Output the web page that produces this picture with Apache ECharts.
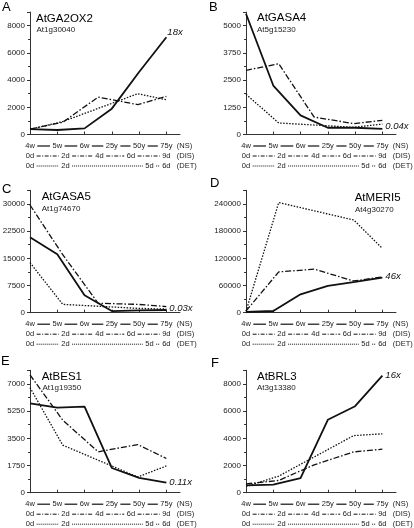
<!DOCTYPE html>
<html><head><meta charset="utf-8">
<script src="https://cdn.jsdelivr.net/npm/echarts@6/dist/echarts.min.js"></script>
<style>html,body{margin:0;padding:0;background:#fff}#c{width:414px;height:528px}</style>
</head><body><div id="c"></div>
<script>
// ---- x positions / tick labels ----
const nsX = [0, 1, 2, 3, 4, 5];
const disX = [0, 1.2, 2.5, 3.95, 5];
const detX = [0, 1.2, 3.95, 5];
const nsTicks = ['4w', '5w', '6w', '25y', '50y', '75y'];
const disTicks = ['0d', '2d', '4d', '6d', '9d'];
const detTicks = ['0d', '2d', '5d', '6d'];
const disTickPos = [0, 1.3, 2.55, 3.7, 5];
const detTickPos = [0, 1.3, 4.38, 5];
const rowTags = ['(NS)', '(DIS)', '(DET)'];

// ---- panel texts ----
const panelLetters = ['A', 'B', 'C', 'D', 'E', 'F'];
const geneNames = ['AtGA2OX2', 'AtGASA4', 'AtGASA5', 'AtMERI5', 'AtBES1', 'AtBRL3'];
const locusIds = ['At1g30040', 'At5g15230', 'At1g74670', 'At4g30270', 'At1g19350', 'At3g13380'];
const foldChanges = ['18x', '0.04x', '0.03x', '46x', '0.11x', '16x'];
const yStep = [2000, 1250, 7500, 60000, 1750, 2000];
const yTop = [8000, 5000, 30000, 240000, 7000, 8000];

// ---- series values (NS solid, DIS dash-dot, DET dotted) ----
const nsA = [400, 330, 450, 1900, 4600, 7150];
const disA = [400, 900, 2750, 2200, 2800];
const detA = [380, 950, 3000, 2550];
const nsB = [5550, 2250, 880, 310, 310, 260];
const disB = [2950, 3250, 800, 500, 650];
const detB = [1850, 530, 330, 480];
const nsC = [20800, 16100, 4800, 450, 650, 750];
const disC = [29700, 16000, 2600, 2300, 1700];
const detC = [13800, 2300, 1200, 1000];
const nsD = [1500, 3700, 40600, 59000, 68000, 77500];
const disD = [3700, 90000, 96000, 70000, 79000];
const detD = [3000, 243000, 204500, 141800];
const nsE = [5750, 5470, 5540, 1590, 950, 650];
const disE = [7580, 4670, 2630, 3100, 2200];
const detE = [6760, 3060, 1010, 1720];
const nsF = [540, 590, 1080, 5360, 6360, 8610];
const disF = [650, 900, 2050, 3000, 3200];
const detF = [460, 1220, 4200, 4330];

const panels = [
  { ns: nsA, dis: disA, det: detA },
  { ns: nsB, dis: disB, det: detB },
  { ns: nsC, dis: disC, det: detC },
  { ns: nsD, dis: disD, det: detD },
  { ns: nsE, dis: disE, det: detE },
  { ns: nsF, dis: disF, det: detF }
];

// ---- layout ----
const FONT = 'Liberation Sans, Arial, Helvetica, sans-serif';
const INK = '#111';
const AX = '#333';
const colLeft = [30, 246];
const rowBottom = [134.5, 312.7, 492.7];
const PLOT_W = 150, PLOT_H = 122.4, X_MAX = 5.5;
const letterPos = [[2, 7.5], [209, 7.5], [2, 189], [210, 183], [1, 361], [211, 363.5]];
const titlePos = [[36, 18.7], [257, 18], [41.7, 197.3], [354.7, 198.3], [41.7, 377.3], [257, 377.3]];
const subPos = [[36.5, 29.5], [257, 29.5], [41.7, 208.7], [355, 209.3], [42.5, 387.3], [257, 388]];
const foldOffset = [[-2, -5], [0, -2], [0, -2], [0, -1], [0, 0], [0, 0]];

const chart = echarts.init(document.getElementById('c'), null, { renderer: 'canvas' });
const pair = (xs, ys) => ys.map((y, k) => [xs[k], y]);

const grids = [], xAxes = [], yAxes = [], series = [];
panels.forEach((p, i) => {
  const col = i % 2, row = Math.floor(i / 2);
  grids.push({ left: colLeft[col], top: rowBottom[row] - PLOT_H, width: PLOT_W, height: PLOT_H,
    containLabel: false, outerBoundsMode: 'none' });
  xAxes.push({ gridIndex: i, type: 'value', min: 0, max: X_MAX, interval: 1,
    axisLine: { show: true, onZero: false, lineStyle: { color: AX, width: 1 } },
    axisTick: { show: true, inside: true, length: 3, customValues: nsX, lineStyle: { color: AX } },
    axisLabel: { show: false }, splitLine: { show: false } });
  yAxes.push({ gridIndex: i, type: 'value', min: 0, max: yTop[i] + yStep[i] / 2, interval: yStep[i],
    axisLine: { show: true, lineStyle: { color: AX, width: 1 } },
    axisTick: { show: true, length: 3, lineStyle: { color: AX } },
    minorTick: { show: true, splitNumber: 2, length: 2, lineStyle: { color: AX } },
    axisLabel: { fontSize: 8, fontFamily: FONT, color: '#222', margin: 5, showMaxLabel: false,
      formatter: v => String(v) },
    splitLine: { show: false }, minorSplitLine: { show: false } });
  series.push({ type: 'line', xAxisIndex: i, yAxisIndex: i, data: pair(nsX, p.ns), symbol: 'none',
    silent: true, z: 4, lineStyle: { color: INK, width: 1.8 },
    endLabel: { show: true, formatter: foldChanges[i], fontStyle: 'italic', fontSize: 9.5,
      fontFamily: FONT, color: INK, distance: 3, offset: foldOffset[i] } });
  series.push({ type: 'line', xAxisIndex: i, yAxisIndex: i, data: pair(disX, p.dis), symbol: 'none',
    silent: true, z: 3, lineStyle: { color: INK, width: 1.3, type: [6, 2, 1.5, 2] } });
  series.push({ type: 'line', xAxisIndex: i, yAxisIndex: i, data: pair(detX, p.det), symbol: 'none',
    silent: true, z: 3, lineStyle: { color: INK, width: 1.3, type: [1.5, 1.5] } });
});

chart.setOption({
  animation: false,
  backgroundColor: '#fff',
  grid: grids, xAxis: xAxes, yAxis: yAxes, series: series
});

// ---- texts and axis-label rows drawn through the axes' own scales ----
const ctx = document.createElement('canvas').getContext('2d');
const ROW_FS = 7.5;
function tw(t) { ctx.font = ROW_FS + 'px ' + FONT; return ctx.measureText(t).width; }
const rows = [
  { labels: nsTicks, pos: nsX, dash: null, lw: 1.2 },
  { labels: disTicks, pos: disTickPos, dash: [4, 1.5, 1, 1.5], lw: 1 },
  { labels: detTicks, pos: detTickPos, dash: [1, 1], lw: 1 }
];
const rowOff = [11, 21, 31];
const g = [];
panels.forEach((p, i) => {
  const row = Math.floor(i / 2);
  const baseY = rowBottom[row];
  const px = v => chart.convertToPixel({ xAxisIndex: i }, v);
  g.push({ type: 'text', x: letterPos[i][0], y: letterPos[i][1], silent: true,
    style: { text: panelLetters[i], fontSize: 13, fontFamily: FONT, fill: '#000', verticalAlign: 'middle', align: 'left' } });
  g.push({ type: 'text', x: titlePos[i][0], y: titlePos[i][1], silent: true,
    style: { text: geneNames[i], fontSize: 11.5, fontFamily: FONT, fill: '#000', verticalAlign: 'middle', align: 'left' } });
  g.push({ type: 'text', x: subPos[i][0], y: subPos[i][1], silent: true,
    style: { text: locusIds[i], fontSize: 8, fontFamily: FONT, fill: '#222', verticalAlign: 'middle', align: 'left' } });
  rows.forEach((r, k) => {
    const y = baseY + rowOff[k];
    r.labels.forEach((lab, j) => {
      const cx = px(r.pos[j]);
      g.push({ type: 'text', x: cx, y: y, silent: true,
        style: { text: lab, fontSize: ROW_FS, fontFamily: FONT, fill: '#222', align: 'center', verticalAlign: 'middle' } });
      if (j < r.labels.length - 1) {
        const nx = px(r.pos[j + 1]);
        const x1 = cx + tw(lab) / 2 + 2.5;
        const x2 = nx - tw(r.labels[j + 1]) / 2 - 2.5;
        const st = { stroke: INK, lineWidth: r.lw };
        if (r.dash) st.lineDash = r.dash;
        g.push({ type: 'line', silent: true, shape: { x1: x1, y1: y + 0.5, x2: x2, y2: y + 0.5 }, style: st });
      }
    });
    g.push({ type: 'text', x: px(nsX[nsX.length - 1]) + 10.5, y: y, silent: true,
      style: { text: rowTags[k], fontSize: ROW_FS, fontFamily: FONT, fill: '#222', align: 'left', verticalAlign: 'middle' } });
  });
});
chart.setOption({ graphic: g });
</script>
</body></html>
